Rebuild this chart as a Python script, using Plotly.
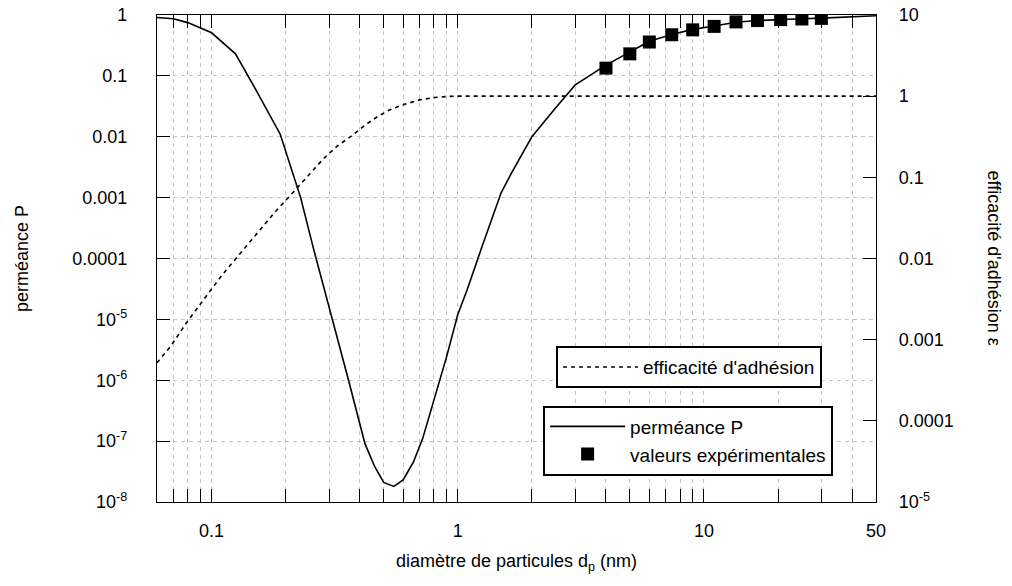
import plotly.graph_objects as go

# ---- data ----
d_perm = [0.06, 0.07, 0.08, 0.1, 0.125, 0.15, 0.19, 0.23, 0.26, 0.31, 0.36, 0.42, 0.46,
          0.5, 0.55, 0.6, 0.66, 0.72, 0.8, 0.9, 1.0, 1.09, 1.25, 1.5, 1.65, 2.0, 2.5, 3.0,
          4.0, 5.0, 6.0, 7.4, 9.0, 11.0, 13.5, 16.5, 20.5, 25.0, 30.0, 50.0]
perm = [0.91, 0.87, 0.75, 0.51, 0.23, 0.063, 0.011, 0.001, 1.4e-4, 1.0e-5, 1.0e-6, 9e-8, 3.8e-8,
        2.1e-8, 1.8e-8, 2.3e-8, 4.5e-8, 1.1e-7, 4.7e-7, 2.4e-6, 1.2e-5, 3.0e-5, 1.5e-4, 1.2e-3,
        2.5e-3, 0.01, 0.03, 0.071, 0.15, 0.245, 0.37, 0.48, 0.58, 0.66, 0.76, 0.81, 0.85, 0.87,
        0.89, 0.97]

d_exp = [4.0, 5.0, 6.0, 7.4, 9.0, 11.0, 13.5, 16.5, 20.5, 25.0, 30.0]
p_exp = [0.134, 0.23, 0.36, 0.474, 0.57, 0.65, 0.77, 0.81, 0.84, 0.86, 0.88]

d_eff = [0.06, 0.068, 0.08, 0.093, 0.11, 0.14, 0.179, 0.216, 0.25, 0.286, 0.325, 0.367, 0.42,
         0.472, 0.53, 0.596, 0.7, 0.8, 0.9, 1.0, 2.0, 10.0, 50.0]
eff = [5.2e-4, 8.2e-4, 1.7e-3, 3.1e-3, 6.2e-3, 0.0148, 0.036, 0.067, 0.11, 0.172, 0.245, 0.317,
       0.44, 0.56, 0.68, 0.78, 0.9, 0.96, 0.99, 1.0, 1.0, 1.0, 1.0]

x_major_vals = [0.1, 1, 10, 50]
x_major_text = ["0.1", "1", "10", "50"]
x_minor_vals = [0.07, 0.08, 0.09, 0.2, 0.3, 0.4, 0.5, 0.6, 0.7, 0.8, 0.9,
                2, 3, 4, 5, 6, 7, 8, 9, 20, 30, 40]
y_left_vals = [1e-8, 1e-7, 1e-6, 1e-5, 1e-4, 1e-3, 1e-2, 1e-1, 1]
y_left_text = ["10<sup>-8</sup>", "10<sup>-7</sup>", "10<sup>-6</sup>", "10<sup>-5</sup>",
               "0.0001", "0.001", "0.01", "0.1", "1"]
y_right_vals = [1e-5, 1e-4, 1e-3, 1e-2, 1e-1, 1, 10]
y_right_text = ["10<sup>-5</sup>", "0.0001", "0.001", "0.01", "0.1", "1", "10"]

FONT = "Liberation Sans, Arial, Helvetica, sans-serif"
GRID = "#c4c4c4"

fig = go.Figure()
fig.add_trace(go.Scatter(
    x=d_eff, y=eff, yaxis="y2", mode="lines", name="efficacité d'adhésion",
    line=dict(color="black", width=1.6, dash="4px,4px"), legend="legend", showlegend=True))
fig.add_trace(go.Scatter(
    x=d_perm, y=perm, mode="lines", name="perméance P",
    line=dict(color="black", width=1.6), legend="legend2", showlegend=True))
fig.add_trace(go.Scatter(
    x=d_exp, y=p_exp, mode="markers", name="valeurs expérimentales",
    marker=dict(symbol="square", size=13, color="black"), legend="legend2", showlegend=True))

fig.update_layout(
    template="none",
    width=1012, height=586,
    margin=dict(l=157, r=136, t=15, b=84),
    paper_bgcolor="white", plot_bgcolor="white",
    showlegend=True,
    font=dict(family=FONT, size=18, color="black"),
    xaxis=dict(
        type="log", range=[-1.2218, 1.699], automargin=False,
        tickmode="array", tickvals=x_major_vals, ticktext=x_major_text,
        ticks="inside", ticklen=13, tickwidth=1, tickcolor="black",
        showline=True, linecolor="black", linewidth=1.2, mirror="allticks",
        showgrid=True, gridcolor=GRID, griddash="4px,4px", gridwidth=1,
        minor=dict(tickmode="array", tickvals=x_minor_vals, ticks="inside", ticklen=7,
                   tickcolor="black", showgrid=True, gridcolor=GRID, griddash="4px,4px"),
        ticklabelstandoff=12, ticklabeloverflow="allow",
        title=dict(text="diamètre de particules d<sub>p</sub> (nm)", standoff=14,
                   font=dict(size=18)),
        zeroline=False),
    yaxis=dict(
        type="log", range=[-8, 0], automargin=False,
        tickmode="array", tickvals=y_left_vals, ticktext=y_left_text,
        ticks="inside", ticklen=13, tickwidth=1, tickcolor="black",
        showline=True, linecolor="black", linewidth=1.2,
        showgrid=True, gridcolor=GRID, griddash="4px,4px", gridwidth=1,
        ticklabelstandoff=25, ticklabeloverflow="allow",
        title=dict(text="perméance P", standoff=38, font=dict(size=18)),
        zeroline=False),
    yaxis2=dict(
        type="log", range=[-5, 1], overlaying="y", side="right", automargin=False,
        tickmode="array", tickvals=y_right_vals, ticktext=y_right_text,
        ticks="inside", ticklen=13, tickwidth=1, tickcolor="black",
        showline=True, linecolor="black", linewidth=1.2,
        showgrid=False, ticklabelstandoff=18, ticklabeloverflow="allow", zeroline=False),
    legend=dict(x=0.555, y=0.320, xanchor="left", yanchor="top", visible=True,
                bgcolor="white", bordercolor="black", borderwidth=2,
                itemwidth=75, font=dict(size=19)),
    legend2=dict(x=0.537, y=0.198, xanchor="left", yanchor="top", visible=True,
                 bgcolor="white", bordercolor="black", borderwidth=2,
                 itemwidth=75, font=dict(size=19), tracegroupgap=0),
    annotations=[dict(text="efficacité d'adhésion ε", xref="paper", yref="paper",
                      x=1.1655, y=0.5, textangle=90, showarrow=False,
                      xanchor="center", yanchor="middle", font=dict(size=18))],
)

# remove the browser's default 8px body margin so the figure fills the window
fig.write_html("out.html", config={"displayModeBar": False},
               post_script="document.body.style.margin='0';")
